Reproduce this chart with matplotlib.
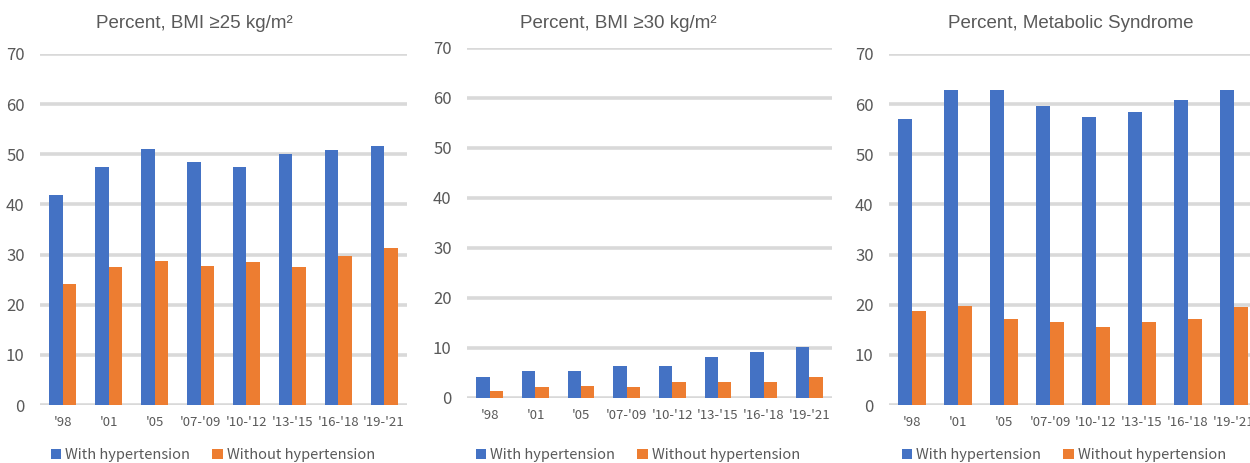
import matplotlib
matplotlib.use("Agg")
import matplotlib.pyplot as plt
import numpy as np

plt.rcParams['font.family'] = ['Noto Sans CJK KR', 'DejaVu Sans']

categories = ["'98", "'01", "'05", "'07-'09", "'10-'12", "'13-'15", "'16-'18", "'19-'21"]
series_names = ["With hypertension", "Without hypertension"]

bmi25_with = [41.8, 47.5, 51.1, 48.4, 47.5, 50.1, 50.8, 51.7]
bmi25_without = [24.1, 27.5, 28.8, 27.8, 28.5, 27.5, 29.8, 31.4]

bmi30_with = [4.1, 5.4, 5.4, 6.4, 6.4, 8.1, 9.1, 10.1]
bmi30_without = [1.3, 2.1, 2.3, 2.1, 3.1, 3.1, 3.1, 4.1]

mets_with = [57.1, 62.8, 62.8, 59.7, 57.4, 58.4, 60.8, 62.8]
mets_without = [18.8, 19.8, 17.2, 16.5, 15.5, 16.5, 17.2, 19.5]

titles = ["Percent, BMI ≥25 kg/m²", "Percent, BMI ≥30 kg/m²", "Percent, Metabolic Syndrome"]
yticks = [0, 10, 20, 30, 40, 50, 60, 70]

BLUE = "#4472C4"
ORANGE = "#ED7D31"
GRID = "#D9D9D9"
TXT = "#595959"

W, H = 1250, 463
fig = plt.figure(figsize=(W / 100, H / 100), dpi=100)

# axes boxes in pixels: (left, right, top(70), bottom(0))
boxes = [(40, 407, 54, 405), (467, 832, 47.7, 397.7), (889, 1257, 54, 405)]
title_pos = [(194, 24), (618, 24), (1071, 24)]
legend_pos = [213, 638, 1064]
data = [(bmi25_with, bmi25_without), (bmi30_with, bmi30_without), (mets_with, mets_without)]

bw = 0.294
x = np.arange(len(categories))
for i, (box, (a, b)) in enumerate(zip(boxes, data)):
    l, r, t, btm = box
    ax = fig.add_axes([l / W, 1 - btm / H, (r - l) / W, (btm - t) / H])
    ax.bar(x - bw / 2, a, width=bw, color=BLUE, label=series_names[0], zorder=3)
    ax.bar(x + bw / 2, b, width=bw, color=ORANGE, label=series_names[1], zorder=3)
    ax.set_xlim(-0.5, len(categories) - 0.5)
    ax.set_ylim(0, 70)
    ax.set_yticks(yticks)
    ax.set_xticks(x)
    ax.set_xticklabels(categories)
    ax.yaxis.grid(True, color=GRID, linewidth=2.6, zorder=0)
    ax.set_axisbelow(True)
    for s in ax.spines.values():
        s.set_visible(False)
    ax.tick_params(axis='both', length=0, colors=TXT)
    ax.tick_params(axis='y', labelsize=12, pad=11)
    ax.tick_params(axis='x', labelsize=9.5, pad=8)
    fig.text(title_pos[i][0] / W, 1 - title_pos[i][1] / H, titles[i], ha='center', va='center',
             fontsize=13.5, color=TXT, family=['Liberation Sans', 'DejaVu Sans'])
    ax.legend(loc='center', bbox_to_anchor=(legend_pos[i] / W, 1 - 455 / H),
              bbox_transform=fig.transFigure, ncol=2, frameon=False, fontsize=10.5,
              handlelength=0.7, handleheight=0.7, handletextpad=0.3, columnspacing=1.5,
              labelcolor=TXT, borderpad=0)

fig.savefig("out.png", dpi=100)
